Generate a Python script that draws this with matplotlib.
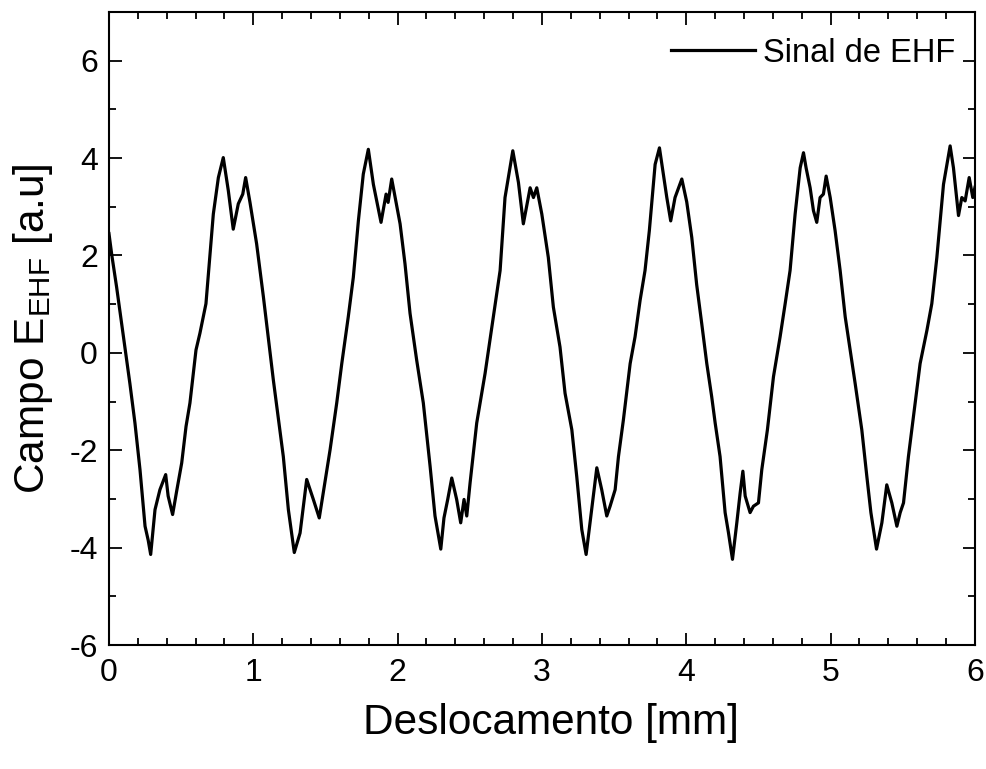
import matplotlib
matplotlib.use("Agg")
import matplotlib.pyplot as plt
from matplotlib.ticker import MultipleLocator

plt.rcParams['font.family'] = ['Liberation Sans', 'DejaVu Sans']
plt.rcParams['mathtext.fontset'] = 'custom'
plt.rcParams['mathtext.rm'] = 'Liberation Sans'
plt.rcParams['axes.unicode_minus'] = False

# Sinal de EHF
deslocamento = [
    0.000, 0.020, 0.053, 0.100, 0.145, 0.180, 0.215, 0.250, 0.272, 0.289,
    0.319, 0.353, 0.393, 0.410, 0.441, 0.469, 0.504, 0.534, 0.561, 0.603,
    0.630, 0.672, 0.723, 0.758, 0.792, 0.827, 0.861, 0.896, 0.927, 0.947,
    0.977, 1.023, 1.070, 1.139, 1.208, 1.243, 1.284, 1.324, 1.370, 1.416,
    1.457, 1.490, 1.532, 1.578, 1.613, 1.658, 1.693, 1.728, 1.762, 1.797,
    1.832, 1.885, 1.920, 1.934, 1.959, 2.017, 2.051, 2.086, 2.132, 2.178,
    2.225, 2.259, 2.299, 2.321, 2.347, 2.375, 2.409, 2.437, 2.460, 2.479,
    2.502, 2.548, 2.606, 2.663, 2.710, 2.744, 2.798, 2.837, 2.871, 2.918,
    2.941, 2.964, 2.999, 3.044, 3.079, 3.125, 3.160, 3.207, 3.241, 3.276,
    3.306, 3.333, 3.380, 3.414, 3.449, 3.472, 3.507, 3.530, 3.564, 3.611,
    3.645, 3.680, 3.714, 3.744, 3.784, 3.814, 3.841, 3.865, 3.892, 3.922,
    3.969, 4.003, 4.038, 4.072, 4.107, 4.142, 4.176, 4.200, 4.234, 4.269,
    4.292, 4.320, 4.350, 4.373, 4.392, 4.408, 4.442, 4.465, 4.500, 4.523,
    4.562, 4.604, 4.650, 4.685, 4.719, 4.754, 4.789, 4.812, 4.830, 4.858,
    4.881, 4.904, 4.927, 4.950, 4.969, 4.997, 5.031, 5.066, 5.101, 5.135,
    5.170, 5.216, 5.251, 5.279, 5.318, 5.355, 5.389, 5.424, 5.459, 5.482,
    5.505, 5.539, 5.574, 5.620, 5.667, 5.701, 5.736, 5.782, 5.828, 5.851,
    5.886, 5.909, 5.932, 5.960, 5.985, 6.000,
]
campo = [
    2.45, 2.00, 1.35, 0.33, -0.63, -1.44, -2.40, -3.56, -3.85, -4.14,
    -3.22, -2.81, -2.50, -2.94, -3.32, -2.84, -2.26, -1.51, -1.03, 0.06,
    0.40, 1.01, 2.85, 3.60, 4.01, 3.33, 2.54, 3.06, 3.26, 3.60,
    3.09, 2.24, 1.15, -0.56, -2.13, -3.22, -4.10, -3.70, -2.60, -3.01,
    -3.39, -2.77, -1.99, -1.03, -0.22, 0.74, 1.55, 2.71, 3.67, 4.18,
    3.46, 2.68, 3.26, 3.09, 3.57, 2.65, 1.83, 0.81, -0.15, -1.03,
    -2.33, -3.35, -4.03, -3.39, -3.01, -2.57, -3.01, -3.49, -3.01, -3.35,
    -2.67, -1.44, -0.42, 0.74, 1.69, 3.19, 4.15, 3.50, 2.65, 3.39,
    3.19, 3.39, 2.85, 1.96, 0.94, 0.12, -0.83, -1.58, -2.54, -3.63,
    -4.14, -3.49, -2.36, -2.81, -3.35, -3.15, -2.81, -2.13, -1.38, -0.22,
    0.33, 1.08, 1.69, 2.51, 3.87, 4.21, 3.67, 3.19, 2.71, 3.19,
    3.57, 3.10, 2.37, 1.40, 0.60, -0.22, -0.90, -1.44, -2.13, -3.28,
    -3.69, -4.24, -3.49, -2.88, -2.43, -2.94, -3.28, -3.15, -3.08, -2.40,
    -1.58, -0.49, 0.33, 1.01, 1.69, 2.85, 3.80, 4.11, 3.80, 3.39,
    2.92, 2.68, 3.19, 3.26, 3.63, 3.19, 2.51, 1.69, 0.74, 0.06,
    -0.63, -1.58, -2.54, -3.28, -4.03, -3.49, -2.71, -3.08, -3.56, -3.28,
    -3.08, -2.13, -1.31, -0.22, 0.46, 1.01, 1.96, 3.46, 4.25, 3.80,
    2.82, 3.19, 3.12, 3.60, 3.19, 3.40,
]

fig = plt.figure(figsize=(9.87, 7.69), dpi=100)
ax = fig.add_axes([0.1104, 0.1612, 0.8774, 0.8232])

ax.plot(deslocamento, campo, color='black', lw=2.3, label='Sinal de EHF')

ax.set_xlim(0, 6)
ax.set_ylim(-6, 7)
ax.set_yticks([-6, -4, -2, 0, 2, 4, 6])
ax.xaxis.set_major_locator(MultipleLocator(1))
ax.xaxis.set_minor_locator(MultipleLocator(0.2))
ax.yaxis.set_minor_locator(MultipleLocator(1))
ax.tick_params(which='both', direction='in', top=True, right=True, width=1.3)
ax.tick_params(which='major', length=9, labelsize=23)
ax.tick_params(axis='x', which='major', pad=9)
ax.tick_params(axis='y', which='major', pad=8)
ax.tick_params(which='minor', length=5)
for s in ax.spines.values():
    s.set_linewidth(1.5)

ax.set_xlabel('Deslocamento [mm]', fontsize=30.5)
ax.set_ylabel(r'Campo E$_{\mathregular{EHF}}$ [a.u]', fontsize=30.5)
ax.xaxis.set_label_coords(0.51, -0.092)
ax.yaxis.set_label_coords(-0.062, 0.5)

ax.legend(loc='center right', bbox_to_anchor=(0.977, 0.935), frameon=False,
          fontsize=23.5, handlelength=2.55, handletextpad=0.25, borderpad=0,
          borderaxespad=0)

fig.savefig('out.png', dpi=100)
